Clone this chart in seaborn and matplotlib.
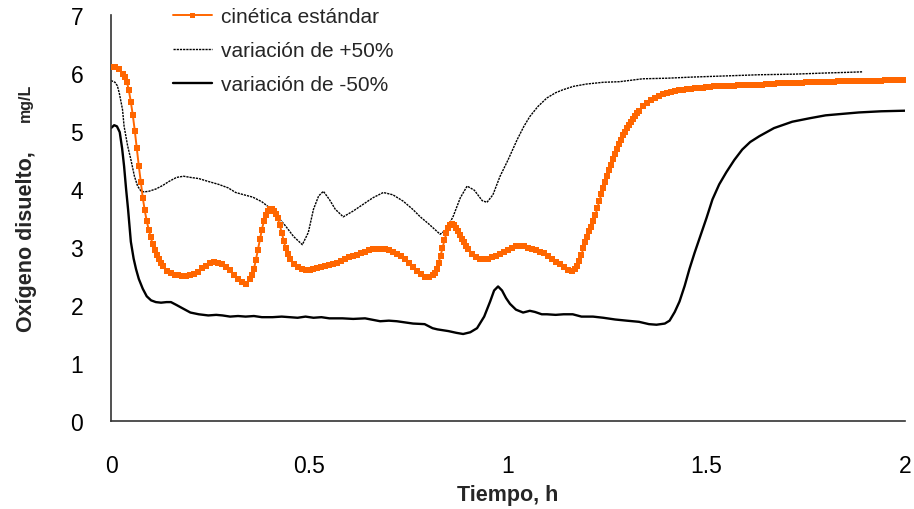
import matplotlib
matplotlib.use("Agg")
import matplotlib.pyplot as plt
import seaborn as sns
import pandas as pd

# ---------------- data ----------------
t_std = [
    0.00, 0.01, 0.02, 0.03, 0.04, 0.05, 0.06, 0.07, 0.08, 0.09,
    0.10, 0.11, 0.12, 0.13, 0.14, 0.15, 0.16, 0.17, 0.18, 0.19,
    0.20, 0.21, 0.22, 0.23, 0.24, 0.25, 0.26, 0.27, 0.28, 0.29,
    0.30, 0.31, 0.32, 0.33, 0.34, 0.35, 0.36, 0.37, 0.38, 0.39,
    0.40, 0.41, 0.42, 0.43, 0.44, 0.45, 0.46, 0.47, 0.48, 0.49,
    0.50, 0.51, 0.52, 0.53, 0.54, 0.55, 0.56, 0.57, 0.58, 0.59,
    0.60, 0.61, 0.62, 0.63, 0.64, 0.65, 0.66, 0.67, 0.68, 0.69,
    0.70, 0.71, 0.72, 0.73, 0.74, 0.75, 0.76, 0.77, 0.78, 0.79,
    0.80, 0.81, 0.82, 0.83, 0.84, 0.85, 0.86, 0.87, 0.88, 0.89,
    0.90, 0.91, 0.92, 0.93, 0.94, 0.95, 0.96, 0.97, 0.98, 0.99,
    1.00, 1.01, 1.02, 1.03, 1.04, 1.05, 1.06, 1.07, 1.08, 1.09,
    1.10, 1.11, 1.12, 1.13, 1.14, 1.15, 1.16, 1.17, 1.18, 1.19,
    1.20, 1.21, 1.22, 1.23, 1.24, 1.25, 1.26, 1.27, 1.28, 1.29,
    1.30, 1.31, 1.32, 1.33, 1.34, 1.35, 1.36, 1.37, 1.38, 1.39,
    1.40, 1.41, 1.42, 1.43, 1.44, 1.45, 1.46, 1.47, 1.48, 1.49,
    1.50, 1.51, 1.52, 1.53, 1.54, 1.55, 1.56, 1.57, 1.58, 1.59,
    1.60, 1.61, 1.62, 1.63, 1.64, 1.65, 1.66, 1.67, 1.68, 1.69,
    1.70, 1.71, 1.72, 1.73, 1.74, 1.75, 1.76, 1.77, 1.78, 1.79,
    1.80, 1.81, 1.82, 1.83, 1.84, 1.85, 1.86, 1.87, 1.88, 1.89,
    1.90, 1.91, 1.92, 1.93, 1.94, 1.95, 1.96, 1.97, 1.98, 1.99,
    2.00,
]
od_std = [
    6.10, 6.10, 6.07, 5.98, 5.85, 5.50, 5.00, 4.40, 3.85, 3.45,
    3.17, 2.95, 2.79, 2.67, 2.59, 2.55, 2.52, 2.51, 2.50, 2.50,
    2.51, 2.53, 2.57, 2.63, 2.68, 2.72, 2.74, 2.73, 2.70, 2.65,
    2.60, 2.52, 2.45, 2.39, 2.37, 2.45, 2.62, 2.95, 3.30, 3.55,
    3.65, 3.62, 3.50, 3.25, 2.98, 2.80, 2.70, 2.65, 2.62, 2.60,
    2.60, 2.62, 2.64, 2.66, 2.67, 2.69, 2.70, 2.72, 2.76, 2.79,
    2.82, 2.85, 2.87, 2.89, 2.91, 2.94, 2.96, 2.97, 2.97, 2.96,
    2.94, 2.91, 2.88, 2.85, 2.79, 2.72, 2.65, 2.58, 2.53, 2.49,
    2.48, 2.52, 2.62, 2.85, 3.12, 3.33, 3.40, 3.33, 3.20, 3.08,
    2.97, 2.88, 2.83, 2.80, 2.79, 2.80, 2.82, 2.85, 2.88, 2.91,
    2.95, 2.99, 3.01, 3.02, 3.01, 2.99, 2.97, 2.95, 2.92, 2.89,
    2.85, 2.80, 2.75, 2.70, 2.65, 2.61, 2.58, 2.62, 2.76, 2.98,
    3.18, 3.35, 3.55, 3.79, 4.02, 4.22, 4.42, 4.60, 4.77, 4.93,
    5.05, 5.16, 5.26, 5.35, 5.43, 5.48, 5.53, 5.57, 5.60, 5.63,
    5.65, 5.67, 5.69, 5.70, 5.71, 5.72, 5.73, 5.74, 5.75, 5.75,
    5.76, 5.76, 5.77, 5.77, 5.77, 5.78, 5.78, 5.78, 5.79, 5.79,
    5.79, 5.80, 5.80, 5.80, 5.80, 5.81, 5.81, 5.81, 5.82, 5.82,
    5.82, 5.83, 5.83, 5.83, 5.83, 5.84, 5.84, 5.84, 5.84, 5.85,
    5.85, 5.85, 5.85, 5.86, 5.86, 5.86, 5.86, 5.86, 5.87, 5.87,
    5.87, 5.87, 5.87, 5.87, 5.87, 5.88, 5.88, 5.88, 5.88, 5.88,
    5.88,
]
# extra readings in the steep parts (samples between the 0.01 h ones)
t_std_steep = [
    0.035, 0.045, 0.055, 0.065, 0.075, 0.085, 0.095, 0.105, 0.115, 0.125,
    0.355, 0.365, 0.375, 0.385, 0.395, 0.405, 0.415, 0.425, 0.435, 0.445,
    0.815, 0.825, 0.835, 0.845, 0.855, 0.865, 0.875, 0.885, 0.895,
    1.175, 1.185, 1.195, 1.205, 1.215, 1.225, 1.235, 1.245, 1.255, 1.265,
    1.275, 1.285, 1.295, 1.305, 1.315, 1.325,
]
od_std_steep = [
    5.93, 5.70, 5.27, 4.70, 4.12, 3.63, 3.30, 3.05, 2.86, 2.72,
    2.52, 2.78, 3.13, 3.44, 3.62, 3.65, 3.57, 3.38, 3.11, 2.88,
    2.56, 2.72, 2.98, 3.24, 3.38, 3.38, 3.27, 3.14, 3.02,
    2.68, 2.87, 3.08, 3.27, 3.45, 3.67, 3.91, 4.12, 4.32, 4.51,
    4.69, 4.85, 4.99, 5.11, 5.21, 5.31,
]

t_plus = [
    0.000, 0.010, 0.016, 0.021, 0.029, 0.033, 0.042, 0.050, 0.059, 0.067,
    0.075, 0.083, 0.095, 0.113, 0.130, 0.146, 0.165, 0.183, 0.200, 0.221,
    0.245, 0.271, 0.295, 0.314, 0.335, 0.357, 0.380, 0.397, 0.420, 0.440,
    0.460, 0.482, 0.497, 0.510, 0.523, 0.535, 0.550, 0.565, 0.585, 0.610,
    0.636, 0.660, 0.686, 0.710, 0.736, 0.760, 0.779, 0.800, 0.829, 0.845,
    0.862, 0.880, 0.897, 0.915, 0.935, 0.947, 0.962, 0.980, 1.000, 1.023,
    1.040, 1.055, 1.075, 1.098, 1.120, 1.138, 1.165, 1.198, 1.240, 1.281,
    1.339, 1.400, 1.465, 1.550, 1.633, 1.720, 1.800, 1.850, 1.892,
]
od_plus = [
    5.87, 5.84, 5.78, 5.65, 5.37, 5.08, 4.74, 4.51, 4.22, 4.05,
    3.97, 3.95, 3.96, 4.00, 4.06, 4.13, 4.20, 4.22, 4.20, 4.18,
    4.13, 4.08, 4.02, 3.94, 3.90, 3.86, 3.78, 3.69, 3.52, 3.36,
    3.18, 3.04, 3.25, 3.65, 3.88, 3.96, 3.82, 3.65, 3.52, 3.62,
    3.74, 3.85, 3.94, 3.90, 3.79, 3.65, 3.52, 3.40, 3.22, 3.30,
    3.53, 3.85, 4.05, 3.98, 3.80, 3.77, 3.90, 4.22, 4.50, 4.85,
    5.08, 5.25, 5.42, 5.57, 5.66, 5.71, 5.77, 5.81, 5.84, 5.85,
    5.90, 5.91, 5.93, 5.95, 5.97, 5.98, 6.00, 6.01, 6.02,
]

t_minus = [
    0.000, 0.008, 0.015, 0.022, 0.028, 0.033, 0.038, 0.043, 0.050, 0.057,
    0.063, 0.070, 0.080, 0.090, 0.101, 0.113, 0.126, 0.140, 0.151, 0.165,
    0.181, 0.200, 0.221, 0.245, 0.265, 0.281, 0.300, 0.320, 0.339, 0.360,
    0.380, 0.407, 0.430, 0.450, 0.470, 0.490, 0.510, 0.530, 0.550, 0.583,
    0.610, 0.640, 0.678, 0.700, 0.720, 0.761, 0.790, 0.810, 0.822, 0.850,
    0.870, 0.887, 0.905, 0.922, 0.940, 0.955, 0.965, 0.975, 0.985, 0.995,
    1.005, 1.020, 1.038, 1.055, 1.068, 1.085, 1.098, 1.120, 1.140, 1.163,
    1.185, 1.214, 1.240, 1.270, 1.299, 1.330, 1.355, 1.374, 1.395, 1.407,
    1.420, 1.432, 1.445, 1.457, 1.470, 1.482, 1.500, 1.515, 1.532, 1.550,
    1.570, 1.590, 1.610, 1.633, 1.670, 1.716, 1.760, 1.800, 1.850, 1.884,
    1.940, 2.000,
]
od_minus = [
    5.05, 5.10, 5.08, 4.98, 4.70, 4.39, 4.00, 3.65, 3.09, 2.80,
    2.62, 2.45, 2.28, 2.15, 2.08, 2.05, 2.04, 2.05, 2.05, 2.00,
    1.94, 1.87, 1.84, 1.82, 1.83, 1.82, 1.80, 1.81, 1.80, 1.81,
    1.79, 1.79, 1.80, 1.79, 1.78, 1.80, 1.78, 1.79, 1.77, 1.77,
    1.76, 1.77, 1.72, 1.73, 1.72, 1.68, 1.67, 1.60, 1.58, 1.55,
    1.52, 1.50, 1.53, 1.60, 1.80, 2.06, 2.25, 2.32, 2.25, 2.12,
    2.02, 1.92, 1.87, 1.90, 1.88, 1.84, 1.84, 1.83, 1.84, 1.84,
    1.80, 1.80, 1.78, 1.75, 1.73, 1.71, 1.67, 1.66, 1.68, 1.73,
    1.88, 2.06, 2.33, 2.62, 2.90, 3.14, 3.50, 3.82, 4.08, 4.29,
    4.50, 4.68, 4.81, 4.91, 5.05, 5.16, 5.22, 5.27, 5.30, 5.32,
    5.34, 5.35,
]

labels = ["cinética estándar", "variación de +50%", "variación de -50%"]
x_ticks = [0, 0.5, 1, 1.5, 2]
x_tick_labels = ["0", "0.5", "1", "1.5", "2"]
y_ticks = [0, 1, 2, 3, 4, 5, 6, 7]

# ---------------- style ----------------
sns.set_style("white")
plt.rcParams["font.family"] = ["Liberation Sans", "DejaVu Sans"]

W, H = 914, 510
fig = plt.figure(figsize=(W / 100, H / 100), dpi=100)
ax = fig.add_axes([111 / W, 1 - 422 / H, 794 / W, 406 / H])

df_std = pd.concat([
    pd.DataFrame({"t": t_std, "od": od_std}),
    pd.DataFrame({"t": t_std_steep, "od": od_std_steep}),
]).sort_values("t").reset_index(drop=True)
df_plus = pd.DataFrame({"t": t_plus, "od": od_plus})
df_minus = pd.DataFrame({"t": t_minus, "od": od_minus})

orange = "#FF6600"
sns.lineplot(data=df_std, x="t", y="od", ax=ax, color=orange, linewidth=1.4,
             marker="s", markersize=4.5, markeredgewidth=0, markerfacecolor=orange,
             estimator=None, sort=False, label=labels[0], zorder=3)
sns.lineplot(data=df_plus, x="t", y="od", ax=ax, color="black", linewidth=1.0,
             linestyle=(0, (1.6, 0.7)), estimator=None, sort=False,
             label=labels[1], zorder=2)
sns.lineplot(data=df_minus, x="t", y="od", ax=ax, color="black", linewidth=1.7,
             estimator=None, sort=False, label=labels[2], zorder=2)

ax.set_xlim(0, 2)
ax.set_ylim(0, 7)
ax.set_xticks(x_ticks)
ax.set_xticklabels(x_tick_labels)
ax.set_yticks(y_ticks)

for s in ["top", "right"]:
    ax.spines[s].set_visible(False)
for s in ["left", "bottom"]:
    ax.spines[s].set_color("#333333")
    ax.spines[s].set_linewidth(1.2)

ax.tick_params(axis="both", which="major", direction="out", length=6,
               width=1.2, color="#555555", labelsize=16.5, labelcolor="black")
ax.tick_params(axis="x", pad=18)
ax.tick_params(axis="y", pad=14)

ax.set_xlabel("Tiempo, h", fontsize=15.5, fontweight="bold")
ax.xaxis.set_label_coords(0.5, -0.155)
ax.xaxis.label.set_va("top")

ax.set_ylabel("Oxígeno disuelto,", fontsize=15.5, fontweight="bold")
ax.yaxis.set_label_coords(-0.106, 0.445)
ax.yaxis.label.set_va("center")
fig.text(25 / W, 1 - 103 / H, "mg/L", rotation=90, fontsize=11.5,
         fontweight="bold", ha="center", va="center")

handles, labs = ax.get_legend_handles_labels()
ax.get_legend().remove()
leg = fig.legend(handles, labs, loc="upper left",
                 bbox_to_anchor=(173 / W, 1 - 8 / H),
                 frameon=False, fontsize=15, handlelength=1.85,
                 handletextpad=0.45, labelspacing=0.72, borderpad=0,
                 borderaxespad=0, markerscale=0.8)

fig.savefig("out.png", dpi=100, facecolor="white")
